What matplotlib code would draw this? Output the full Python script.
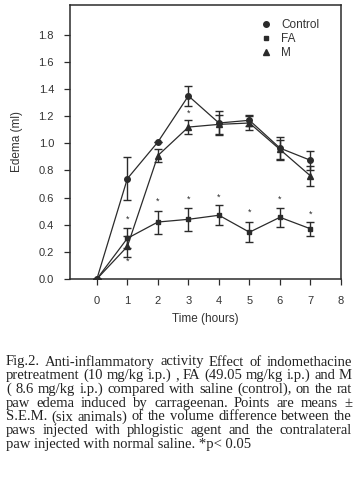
import numpy as np
import matplotlib
matplotlib.use("Agg")
import matplotlib.pyplot as plt
from matplotlib.lines import Line2D

matplotlib.rc("font", family="Liberation Sans", size=8)

hours = [0, 1, 2, 3, 4, 5, 6, 7]

control = [0.0, 0.74, 1.01, 1.35, 1.15, 1.17, 0.965, 0.875]
control_err = [0.0, 0.16, 0.0, 0.075, 0.09, 0.04, 0.085, 0.07]

fa = [0.0, 0.30, 0.42, 0.44, 0.47, 0.345, 0.455, 0.37]
fa_err = [0.0, 0.075, 0.085, 0.085, 0.075, 0.075, 0.07, 0.05]

m = [0.0, 0.24, 0.91, 1.12, 1.14, 1.15, 0.955, 0.76]
m_err = [0.0, 0.08, 0.05, 0.05, 0.07, 0.05, 0.07, 0.075]

# significance marks (*p<0.05)
star_x = [1, 2, 3, 4, 5, 6, 7, 1, 3]
star_y = [0.44, 0.57, 0.59, 0.60, 0.49, 0.59, 0.48, 0.13, 1.22]

caption = [
    "Fig.2. Anti-inflammatory activity Effect of indomethacine",
    "pretreatment (10 mg/kg i.p.) , FA (49.05 mg/kg i.p.) and M",
    "( 8.6 mg/kg i.p.) compared with saline (control), on the rat",
    "paw edema induced by carrageenan. Points are means \u00b1",
    "S.E.M. (six animals) of the volume difference between the",
    "paws injected with phlogistic agent and the contralateral",
    "paw injected with normal saline. *p< 0.05",
]

ink = "#2b2b2b"
W, H = 357, 482

fig = plt.figure(figsize=(W / 100, H / 100), dpi=100)
ax = fig.add_axes([70 / W, 1 - 279 / H, (341 - 70) / W, (279 - 5) / H])

series = [
    ("Control", control, control_err, "o", 4.0),
    ("FA", fa, fa_err, "s", 3.3),
    ("M", m, m_err, "^", 4.0),
]
handles = []
for name, vals, errs, mk, ms in series:
    ax.errorbar(hours, vals, yerr=errs, fmt="-", marker=mk, ms=ms,
                color=ink, lw=0.9, elinewidth=1.0, capsize=2.6,
                capthick=1.0)
    handles.append(Line2D([], [], ls="none", marker=mk, ms=ms, color=ink,
                          label=name))

for sx, sy in zip(star_x, star_y):
    ax.text(sx, sy, "*", ha="center", va="center", fontsize=6.5, color=ink)

ax.set_xlim(-0.88, 8)
ax.set_ylim(0, 2.02)
ax.set_xticks(range(0, 9))
ax.set_yticks(np.arange(0, 1.81, 0.2))
ax.set_yticklabels([f"{v:.1f}" for v in np.arange(0, 1.81, 0.2)])
ax.tick_params(direction="out", length=4.5, width=0.9, colors=ink,
               labelcolor="#333333", labelsize=8)
ax.tick_params(axis="y", pad=7)
ax.tick_params(axis="x", pad=8)
for sp in ax.spines.values():
    sp.set_linewidth(1.1)
    sp.set_color(ink)

ax.set_xlabel("Time (hours)", fontsize=8.5, color="#333333", labelpad=5)
ax.set_ylabel("Edema (ml)", fontsize=8.5, color="#333333", labelpad=11)

leg = ax.legend(handles=handles, loc="upper right", bbox_to_anchor=(0.95, 0.98),
                frameon=False, fontsize=8.5, handlelength=1.0,
                handletextpad=0.8, labelspacing=0.2, borderaxespad=0.3)
for t in leg.get_texts():
    t.set_color("#333333")

# justified caption
fig.canvas.draw()
r = fig.canvas.get_renderer()
x0, x1 = 6, 352
y0, dy = 362, 13.7
cap_font = dict(family="Liberation Serif", fontsize=10.5, color="#222222")
for i, line in enumerate(caption):
    yy = 1 - (y0 + i * dy) / H
    words = line.split(" ")
    if i == len(caption) - 1:
        fig.text(x0 / W, yy, line, ha="left", va="center", **cap_font)
        continue
    objs = [fig.text(0, yy, w, ha="left", va="center", **cap_font) for w in words]
    widths = [o.get_window_extent(r).width for o in objs]
    gap = (x1 - x0 - sum(widths)) / (len(words) - 1)
    xp = x0
    for o, wd in zip(objs, widths):
        o.set_x(xp / W)
        xp += wd + gap

fig.savefig("out.png", dpi=100)
